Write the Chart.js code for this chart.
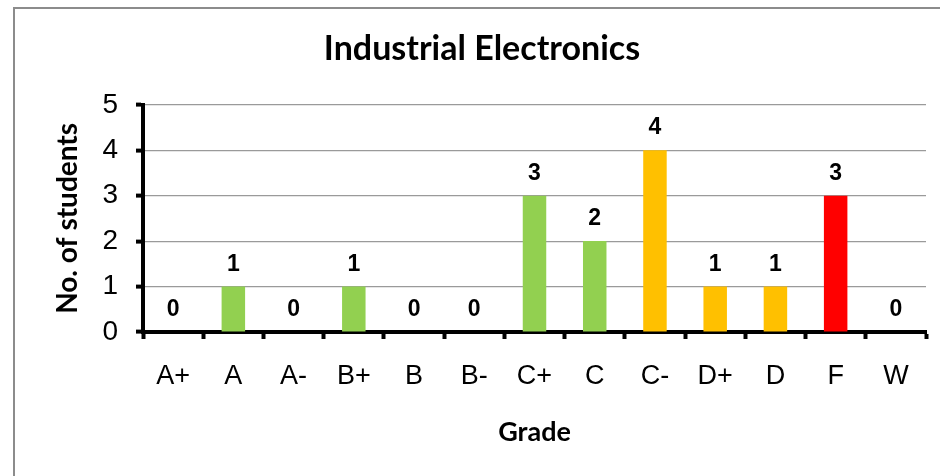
<!DOCTYPE html>
<html>
<head>
<meta charset="utf-8">
<script src="https://cdn.jsdelivr.net/npm/chart.js@4.4.1/dist/chart.umd.min.js"></script>
<style>
  html, body { margin: 0; padding: 0; background: #fff; }
  #wrap { width: 940px; height: 476px; }
</style>
</head>
<body>
<div id="wrap"><canvas id="chart" width="940" height="476"></canvas></div>
<script>
const grades = ["A+", "A", "A-", "B+", "B", "B-", "C+", "C", "C-", "D+", "D", "F", "W"];
const students = [0, 1, 0, 1, 0, 0, 3, 2, 4, 1, 1, 3, 0];
const barColors = [
  "#92D050", "#92D050", "#92D050", "#92D050", "#92D050", "#92D050", "#92D050",
  "#92D050", "#FFC000", "#FFC000", "#FFC000", "#FF0000", "#FF0000"
];
const yTicks = [0, 1, 2, 3, 4, 5];

const frame = {
  id: "frame",
  beforeDraw(chart) {
    const ctx = chart.ctx;
    ctx.save();
    ctx.strokeStyle = "#8c8c8c";
    ctx.lineWidth = 2;
    ctx.strokeRect(14, 8, chart.width + 20, chart.height + 20);
    ctx.restore();
  }
};

const valueLabels = {
  id: "valueLabels",
  afterDatasetsDraw(chart) {
    const ctx = chart.ctx;
    const meta = chart.getDatasetMeta(0);
    ctx.save();
    ctx.font = "bold 23px 'Liberation Sans', Arial, sans-serif";
    ctx.fillStyle = "#000";
    ctx.textAlign = "center";
    ctx.textBaseline = "alphabetic";
    meta.data.forEach((bar, i) => {
      ctx.fillText(String(students[i]), bar.x, bar.y - 16);
    });
    ctx.restore();
  }
};

new Chart(document.getElementById("chart").getContext("2d"), {
  type: "bar",
  data: {
    labels: grades,
    datasets: [
      {
        data: students,
        backgroundColor: barColors,
        borderWidth: 0,
        barPercentage: 0.39,
        categoryPercentage: 1,
      },
    ],
  },
  options: {
    responsive: false,
    animation: false,
    layout: { padding: { left: 38, right: 14, top: 0, bottom: 0 } },
    plugins: {
      legend: { display: false },
      tooltip: { enabled: false },
      title: {
        display: true,
        text: "Industrial Electronics",
        color: "#000",
        font: { family: "Lato", size: 34, weight: "bold" },
        padding: { top: 29, bottom: 35 },
      },
    },
    scales: {
      x: {
        afterFit: (scale) => { scale.height = 144; },
        ticks: {
          color: "#000",
          padding: 21,
          maxRotation: 0,
          font: { family: "'Liberation Sans', Arial, sans-serif", size: 27 },
        },
        grid: {
          offset: true,
          drawOnChartArea: false,
          drawTicks: true,
          tickLength: 7,
          tickColor: "#000",
          tickWidth: 4,
        },
        border: { color: "#000", width: 4 },
        title: {
          display: true,
          text: "Grade",
          color: "#000",
          font: { family: "Lato", size: 27, weight: "bold" },
          padding: { top: 0, bottom: 28 },
        },
      },
      y: {
        min: 0,
        max: 5,
        afterFit: (scale) => { scale.width = 105; },
        afterBuildTicks: (scale) => { scale.ticks = yTicks.map((v) => ({ value: v })); },
        ticks: {
          color: "#000",
          padding: 18,
          font: { family: "'Liberation Sans', Arial, sans-serif", size: 28 },
        },
        grid: {
          color: "#9a9a9a",
          lineWidth: 1.2,
          drawTicks: true,
          tickLength: 7,
          tickColor: "#000",
          tickWidth: 4,
        },
        border: { color: "#000", width: 4 },
        title: {
          display: true,
          text: "No. of students",
          color: "#000",
          font: { family: "Lato", size: 28, weight: "bold" },
          padding: { top: 13, bottom: 0 },
        },
      },
    },
  },
  plugins: [frame, valueLabels],
});
</script>
</body>
</html>
